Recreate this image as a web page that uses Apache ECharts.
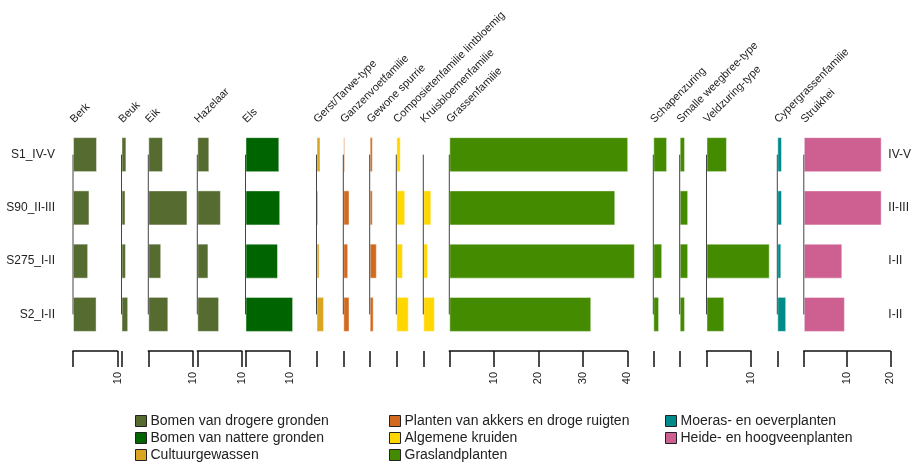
<!DOCTYPE html>
<html>
<head>
<meta charset="utf-8">
<script src="https://cdn.jsdelivr.net/npm/echarts@6/dist/echarts.min.js"></script>
<style>
  html, body { margin: 0; padding: 0; background: #fff; }
  #chart { width: 914px; height: 464px; }
</style>
</head>
<body>
<div id="chart"></div>
<script>
// monsters (boven naar beneden)
const samples = ['S1_IV-V', 'S90_II-III', 'S275_I-II', 'S2_I-II'];
const zones = ['IV-V', 'II-III', 'I-II', 'I-II'];

// taxa en hun ecologische groep
const taxa = ['Berk', 'Beuk', 'Eik', 'Hazelaar', 'Els', 'Gerst/Tarwe-type', 'Ganzenvoetfamilie',
  'Gewone spurrie', 'Composietenfamilie lintbloemig', 'Kruisbloemenfamilie', 'Grassenfamilie',
  'Schapenzuring', 'Smalle weegbree-type', 'Veldzuring-type', 'Cypergrassenfamilie', 'Struikhei'];
const taxonGroup = [0, 0, 0, 0, 1, 2, 3, 3, 4, 4, 5, 5, 5, 5, 6, 7];

const groups = ['Bomen van drogere gronden', 'Bomen van nattere gronden', 'Cultuurgewassen',
  'Planten van akkers en droge ruigten', 'Algemene kruiden', 'Graslandplanten',
  'Moeras- en oeverplanten', 'Heide- en hoogveenplanten'];
const groupColors = ['#556B2F', '#006400', '#DAA520', '#D2691E', '#FFD700', '#458B00', '#008B8B', '#CD6090'];

// percentages per taxon, in volgorde van samples
const berk = [5.4, 3.7, 3.4, 5.3];
const beuk = [1.1, 0.9, 1.0, 1.5];
const eik = [3.3, 8.8, 2.9, 4.5];
const hazelaar = [2.7, 5.3, 2.5, 4.9];
const els = [7.6, 7.8, 7.3, 10.7];
const gerst = [0.9, 0.45, 0.7, 1.7];
const ganzenvoet = [0.4, 1.4, 1.1, 1.4];
const spurrie = [0.7, 0.7, 1.6, 0.9];
const composieten = [1.0, 2.0, 1.5, 2.8];
const kruisbloemen = [0.1, 1.8, 1.05, 2.6];
const grassen = [40.2, 37.3, 41.7, 31.9];
const schapenzuring = [3.1, 0, 2.0, 1.3];
const weegbree = [1.2, 1.9, 1.9, 1.2];
const veldzuring = [4.6, 0, 14.2, 4.0];
const cypergrassen = [1.05, 1.05, 0.9, 2.0];
const struikhei = [18.0, 18.0, 8.9, 9.5];
const values = [berk, beuk, eik, hazelaar, els, gerst, ganzenvoet, spurrie, composieten,
  kruisbloemen, grassen, schapenzuring, weegbree, veldzuring, cypergrassen, struikhei];

// hoogste asmarkering per paneel (0 = alleen nulstreep)
const tickMax = [10, 0, 10, 10, 10, 0, 0, 0, 0, 0, 40, 0, 0, 10, 0, 20];

// layout
const panelLeft = [73, 121.5, 148.3, 197.3, 245.5, 316.5, 343.3, 369.7, 396.3, 423.3, 449.3, 653.3, 679.7, 706.5, 777.3, 803.8];
const pxPerUnit = 4.45;
const plotTop = 128, plotHeight = 213;
const font = 'Liberation Sans, Arial, sans-serif';

const grid = [], xAxis = [], yAxis = [], series = [], graphic = [];

taxa.forEach(function (name, i) {
  const axMax = tickMax[i] > 0 ? tickMax[i] : 2;
  const ticks = [];
  for (let t = 0; t <= tickMax[i]; t += 10) ticks.push(t);
  const color = groupColors[taxonGroup[i]];

  grid.push({ left: panelLeft[i], top: plotTop, width: axMax * pxPerUnit, height: plotHeight });

  xAxis.push({
    gridIndex: i, type: 'value', min: 0, max: axMax, interval: 10,
    position: 'bottom', offset: 10,
    splitLine: { show: false },
    axisLine: { show: tickMax[i] > 0, lineStyle: { color: '#111', width: 1.5 } },
    axisTick: { show: true, length: 16, customValues: ticks, lineStyle: { color: '#111', width: 1.5 } },
    axisLabel: {
      show: tickMax[i] > 0, customValues: ticks.slice(1), rotate: 90, margin: 21,
      fontSize: 11, color: '#222', fontFamily: font
    }
  });

  yAxis.push({
    gridIndex: i, type: 'category', data: samples, inverse: true,
    axisLine: { show: false }, axisTick: { show: false },
    axisLabel: { show: i === 0, margin: 18, fontSize: 12, color: '#222', fontFamily: font }
  });

  series.push({
    type: 'bar', name: groups[taxonGroup[i]], xAxisIndex: i, yAxisIndex: i,
    data: values[i], barWidth: 35, clip: false, silent: true,
    itemStyle: { color: color, borderColor: 'rgba(255,255,255,0.45)', borderWidth: 1 }
  });

  // nullijn van eerste tot laatste monster
  series.push({
    type: 'line', xAxisIndex: i, yAxisIndex: i, symbol: 'none', silent: true, z: 5,
    data: [[0, samples[0]], [0, samples[samples.length - 1]]],
    lineStyle: { color: '#444', width: 1 }
  });

  graphic.push({
    type: 'text', x: panelLeft[i] + 3, y: 125, rotation: Math.PI / 4,
    style: {
      text: name, fill: '#222', font: '11px ' + font,
      align: 'left', verticalAlign: 'bottom'
    }
  });
});

// zonelabels rechts van laatste paneel
const last = taxa.length - 1;
yAxis.push({
  gridIndex: last, type: 'category', data: zones, inverse: true, position: 'right',
  axisLine: { show: false }, axisTick: { show: false },
  axisLabel: { margin: -2, fontSize: 12, color: '#222', fontFamily: font }
});

const legendBase = {
  orient: 'vertical', top: 414, itemWidth: 11, itemHeight: 11, itemGap: 3, icon: 'rect',
  selectedMode: false, padding: 0,
  itemStyle: { borderColor: '#222', borderWidth: 1 },
  textStyle: { fontSize: 14, color: '#222', fontFamily: font, padding: [0, 0, 0, -1] }
};

const chart = echarts.init(document.getElementById('chart'));
chart.setOption({
  animation: false,
  grid: grid,
  xAxis: xAxis,
  yAxis: yAxis,
  series: series,
  graphic: graphic,
  legend: [
    Object.assign({}, legendBase, { left: 135, data: groups.slice(0, 3) }),
    Object.assign({}, legendBase, { left: 389, data: groups.slice(3, 6) }),
    Object.assign({}, legendBase, { left: 665, data: groups.slice(6, 8) })
  ]
});
</script>
</body>
</html>
